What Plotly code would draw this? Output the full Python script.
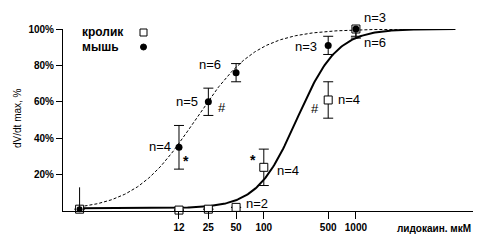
import numpy as np
import plotly.graph_objects as go

# ---- data ----
conc_rabbit = [1, 12, 25, 50, 100, 500, 1000]
rabbit = [1, 0.5, 1, 2, 24, 61, 100]
rabbit_err = [0, 0, 0, 0, 10, 10, 4]

conc_mouse = [12, 25, 50, 500, 1000]
mouse = [35, 60, 76, 91, 100]
mouse_err = [12, 7.5, 5, 5, 5]

conc_ctrl = [1]
mouse_ctrl = [1]
mouse_ctrl_err = [12]

# Hill fit parameters (fitted curves)
mouse_ec50, mouse_hill, mouse_base = 18.0, 1.3, 0.0
rabbit_ec50, rabbit_hill, rabbit_base = 230.0, 2.0, 1.5
curve_min, curve_max = 1.0, 12000.0

xticks = [12, 25, 50, 100, 500, 1000]
yticks = [20, 40, 60, 80, 100]
yticktext = ["20%", "40%", "60%", "80%", "100%"]

W, H = 488, 245
OFF = 8  # default page body margin
# target plot area on screen: x 63..473, y 29..211
ML, MT = 63 - OFF, 29 - OFF
MR, MB = W - (473 - OFF), H - (211 - OFF)
FONT = "Liberation Sans, Arial, sans-serif"


def hill(x, ec, n, base):
    return base + (100 - base) * x ** n / (x ** n + ec ** n)


xc = np.logspace(np.log10(curve_min), np.log10(curve_max), 300)

fig = go.Figure()

# curves
fig.add_trace(go.Scatter(x=xc, y=hill(xc, mouse_ec50, mouse_hill, mouse_base), mode="lines",
                         line=dict(color="black", width=1, dash="3px,2px"), hoverinfo="skip"))
fig.add_trace(go.Scatter(x=xc, y=hill(xc, rabbit_ec50, rabbit_hill, rabbit_base), mode="lines",
                         line=dict(color="black", width=2), hoverinfo="skip"))

# rabbit points
fig.add_trace(go.Scatter(x=conc_rabbit, y=rabbit, mode="markers",
                         marker=dict(symbol="square", size=8, color="white",
                                     line=dict(color="black", width=1)),
                         error_y=dict(type="data", array=rabbit_err, visible=True,
                                      color="black", thickness=1, width=5),
                         cliponaxis=False))
# mouse control
fig.add_trace(go.Scatter(x=conc_ctrl, y=mouse_ctrl, mode="markers",
                         marker=dict(symbol="circle", size=6, color="black"),
                         error_y=dict(type="data", array=mouse_ctrl_err, arrayminus=[0],
                                      visible=True, color="black", thickness=1, width=0),
                         cliponaxis=False))
# mouse points
fig.add_trace(go.Scatter(x=conc_mouse, y=mouse, mode="markers",
                         marker=dict(symbol="circle", size=7, color="black"),
                         error_y=dict(type="data", array=mouse_err, visible=True,
                                      color="black", thickness=1, width=5),
                         cliponaxis=False))

pw, ph = W - ML - MR, H - MT - MB


def px(x):
    return (x - OFF - ML) / pw


def py(y):
    return (H - MB - (y - OFF)) / ph


labels = [
    ("n=4", 160, 146), ("n=5", 187, 101), ("n=6", 210, 64), ("n=3", 306, 46),
    ("n=4", 349, 99), ("n=3", 375, 17), ("n=6", 375, 43), ("n=4", 288, 170),
    ("n=2", 257, 203),
]
ann = []
for t, x, y in labels:
    ann.append(dict(text=t, x=px(x), y=py(y), xref="paper", yref="paper", showarrow=False,
                    xanchor="center", yanchor="middle", font=dict(family=FONT, size=13, color="black")))
for t, x, y in [("*", 186, 161), ("*", 253, 160)]:
    ann.append(dict(text="<b>*</b>", x=px(x), y=py(y), xref="paper", yref="paper", showarrow=False,
                    xanchor="center", yanchor="middle", font=dict(family=FONT, size=14, color="black")))
for t, x, y in [("#", 222, 107), ("#", 315, 108)]:
    ann.append(dict(text=t, x=px(x), y=py(y), xref="paper", yref="paper", showarrow=False,
                    xanchor="center", yanchor="middle", font=dict(family=FONT, size=13, color="black")))
# legend text
for t, y in [("кролик", 32), ("мышь", 47)]:
    ann.append(dict(text="<b>" + t + "</b>", x=px(80), y=py(y), xref="paper", yref="paper",
                    showarrow=False, xanchor="left", yanchor="middle",
                    font=dict(family=FONT, size=12, color="black")))
# axis titles
ann.append(dict(text="dV/dt max, %", x=px(17), y=py(118), xref="paper", yref="paper",
                showarrow=False, textangle=-90, xanchor="center", yanchor="middle",
                font=dict(family=FONT, size=10, color="black")))
ann.append(dict(text="<b>лидокаин. мкМ</b>", x=px(473), y=py(228), xref="paper", yref="paper",
                showarrow=False, xanchor="right", yanchor="middle",
                font=dict(family=FONT, size=10, color="black")))

shapes = [
    dict(type="rect", xref="paper", yref="paper", x0=px(140), x1=px(147), y0=py(36), y1=py(29),
         line=dict(color="black", width=1), fillcolor="white"),
    dict(type="circle", xref="paper", yref="paper", x0=px(140.5), x1=px(146.5), y0=py(50), y1=py(44),
         line=dict(color="black", width=1), fillcolor="black"),
]

fig.update_layout(
    width=W, height=H, margin=dict(l=ML, r=MR, t=MT, b=MB, pad=0, autoexpand=False),
    paper_bgcolor="white", plot_bgcolor="white", showlegend=False,
    annotations=ann, shapes=shapes,
    font=dict(family=FONT, color="black"),
)
fig.update_xaxes(type="log", range=[-0.18, 4.271], showgrid=False, zeroline=False,
                 automargin=False,
                 showline=True, linecolor="black", linewidth=1,
                 ticks="outside", ticklen=7, tickcolor="black", tickwidth=1,
                 tickvals=xticks, ticktext=[f"<b>{v}</b>" for v in xticks],
                 tickfont=dict(family=FONT, size=10, color="black"))
fig.update_yaxes(range=[0, 100], showgrid=False, zeroline=False,
                 automargin=False,
                 showline=True, linecolor="black", linewidth=1,
                 ticks="outside", ticklen=6, tickcolor="black", tickwidth=1,
                 tickvals=yticks, ticktext=[f"<b>{t}</b>" for t in yticktext],
                 tickfont=dict(family=FONT, size=10, color="black"))

fig.write_html("out.html")
